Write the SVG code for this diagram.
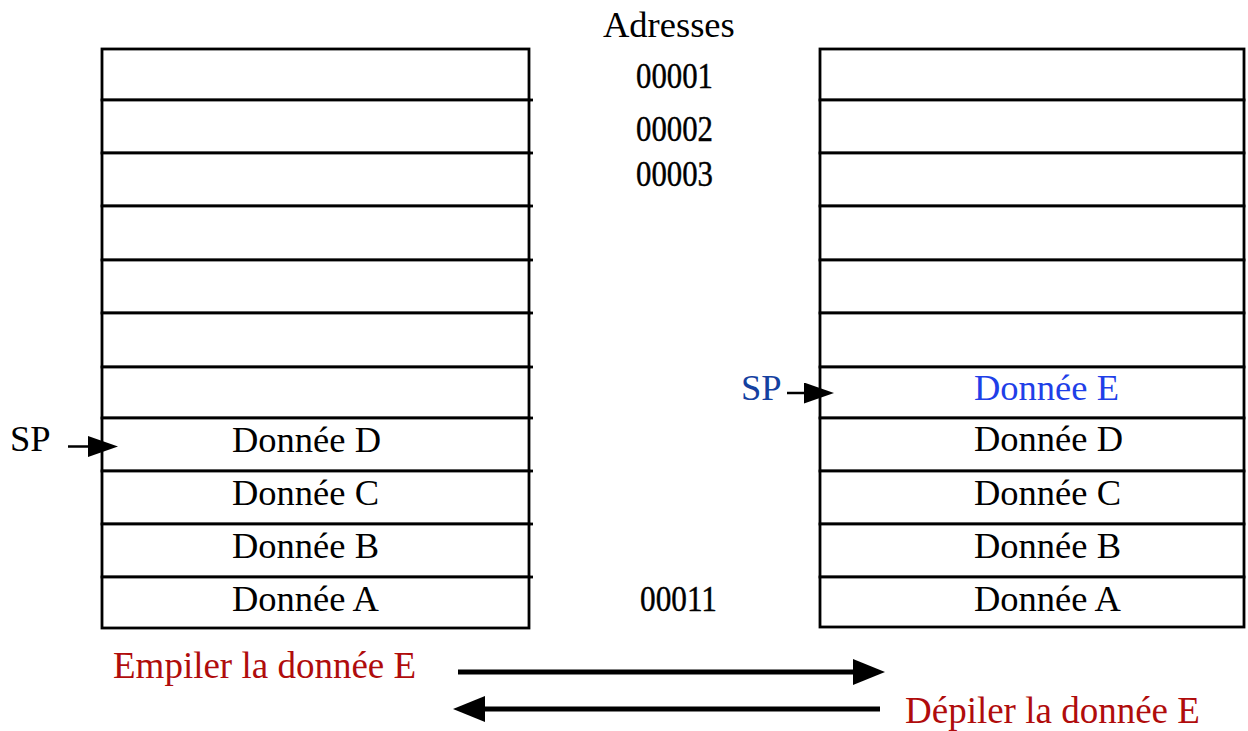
<svg xmlns="http://www.w3.org/2000/svg" width="1248" height="731" viewBox="0 0 1248 731">
<style>
  .cell { fill: #ffffff; stroke: #000000; stroke-width: 2.8; }
  .tick { stroke: #000000; stroke-width: 2.8; }
  .t { font-family: "Liberation Serif", "Times New Roman", serif; font-size: 36.5px; fill: #000000; }
  .addr { font-family: "Liberation Serif", "Times New Roman", serif; font-size: 35px; fill: #000000; stroke: #000000; stroke-width: 0.4; }
  .blue { fill: #1f3fe8; }
  .sp2 { fill: #1440a0; }
  .red { font-family: "Liberation Serif", "Times New Roman", serif; font-size: 37px; fill: #b00c0c; }
  .thin { stroke: #000000; stroke-width: 2.5; fill: none; }
  .thick { stroke: #000000; stroke-width: 5; fill: none; }
</style>
<defs>
  <marker id="hs" viewBox="0 0 10 10" refX="0" refY="5" markerUnits="userSpaceOnUse" markerWidth="30" markerHeight="21" orient="auto" preserveAspectRatio="none">
    <path d="M0,0 L10,5 L0,10 Z" fill="#000000"/>
  </marker>
  <marker id="hb" viewBox="0 0 10 10" refX="0" refY="5" markerUnits="userSpaceOnUse" markerWidth="32" markerHeight="26" orient="auto" preserveAspectRatio="none">
    <path d="M0,0 L10,5 L0,10 Z" fill="#000000"/>
  </marker>
</defs>
<rect width="1248" height="731" fill="#ffffff"/>

<!-- Left stack -->
<g id="L1"><rect class="cell" x="102" y="49" width="427" height="51"/></g>
<g id="L2"><rect class="cell" x="102" y="100" width="427" height="53"/></g>
<g id="L3"><rect class="cell" x="102" y="153" width="427" height="53"/></g>
<g id="L4"><rect class="cell" x="102" y="206" width="427" height="54"/></g>
<g id="L5"><rect class="cell" x="102" y="260" width="427" height="53"/></g>
<g id="L6"><rect class="cell" x="102" y="313" width="427" height="54"/></g>
<g id="L7"><rect class="cell" x="102" y="367" width="427" height="51"/></g>
<g id="L8"><rect class="cell" x="102" y="418" width="427" height="53"/><text class="t" x="232" y="452">Donnée D</text></g>
<g id="L9"><rect class="cell" x="102" y="471" width="427" height="53"/><text class="t" x="232" y="505">Donnée C</text></g>
<g id="L10"><rect class="cell" x="102" y="524" width="427" height="53"/><text class="t" x="232" y="558">Donnée B</text></g>
<g id="L11"><rect class="cell" x="102" y="577" width="427" height="51"/><text class="t" x="232" y="611">Donnée A</text></g>
<g id="ticks">
  <line class="tick" x1="529" y1="100" x2="533" y2="100"/>
  <line class="tick" x1="529" y1="153" x2="533" y2="153"/>
  <line class="tick" x1="529" y1="206" x2="533" y2="206"/>
  <line class="tick" x1="529" y1="260" x2="533" y2="260"/>
  <line class="tick" x1="529" y1="313" x2="533" y2="313"/>
  <line class="tick" x1="529" y1="367" x2="533" y2="367"/>
  <line class="tick" x1="529" y1="418" x2="533" y2="418"/>
  <line class="tick" x1="529" y1="471" x2="533" y2="471"/>
  <line class="tick" x1="529" y1="524" x2="533" y2="524"/>
  <line class="tick" x1="529" y1="577" x2="533" y2="577"/>
</g>

<!-- Right stack -->
<g id="R1"><rect class="cell" x="820" y="49" width="424" height="51"/></g>
<g id="R2"><rect class="cell" x="820" y="100" width="424" height="53"/></g>
<g id="R3"><rect class="cell" x="820" y="153" width="424" height="53"/></g>
<g id="R4"><rect class="cell" x="820" y="206" width="424" height="54"/></g>
<g id="R5"><rect class="cell" x="820" y="260" width="424" height="53"/></g>
<g id="R6"><rect class="cell" x="820" y="313" width="424" height="54"/></g>
<g id="R7"><rect class="cell" x="820" y="367" width="424" height="51"/><text class="t blue" x="974" y="400">Donnée E</text></g>
<g id="R8"><rect class="cell" x="820" y="418" width="424" height="53"/><text class="t" x="974" y="451">Donnée D</text></g>
<g id="R9"><rect class="cell" x="820" y="471" width="424" height="53"/><text class="t" x="974" y="505">Donnée C</text></g>
<g id="R10"><rect class="cell" x="820" y="524" width="424" height="53"/><text class="t" x="974" y="558">Donnée B</text></g>
<g id="R11"><rect class="cell" x="820" y="577" width="424" height="50"/><text class="t" x="974" y="611">Donnée A</text></g>

<!-- Addresses -->
<g id="addresses">
  <text class="t" x="603" y="37">Adresses</text>
  <text class="addr" x="636" y="88" textLength="77" lengthAdjust="spacingAndGlyphs">00001</text>
  <text class="addr" x="636" y="141" textLength="77" lengthAdjust="spacingAndGlyphs">00002</text>
  <text class="addr" x="636" y="186" textLength="77" lengthAdjust="spacingAndGlyphs">00003</text>
  <text class="addr" x="640" y="611" textLength="77" lengthAdjust="spacingAndGlyphs">00011</text>
</g>

<!-- SP labels -->
<g id="SP-left"><text class="t" x="10" y="451">SP</text></g>
<g id="SP-right"><text class="t sp2" x="741" y="400">SP</text></g>

<!-- Operation labels -->
<g id="empiler"><text class="red" x="113" y="678">Empiler la donnée E</text></g>
<g id="depiler"><text class="red" x="905" y="723">Dépiler la donnée E</text></g>

<!-- Connectors -->
<g id="connectors">
  <line class="thin" x1="68" y1="446.5" x2="88" y2="446.5" marker-end="url(#hs)"/>
  <line class="thin" x1="787" y1="393" x2="804" y2="393" marker-end="url(#hs)"/>
  <line class="thick" x1="458" y1="672" x2="853" y2="672" marker-end="url(#hb)"/>
  <line class="thick" x1="880" y1="709" x2="485" y2="709" marker-end="url(#hb)"/>
</g>
</svg>
